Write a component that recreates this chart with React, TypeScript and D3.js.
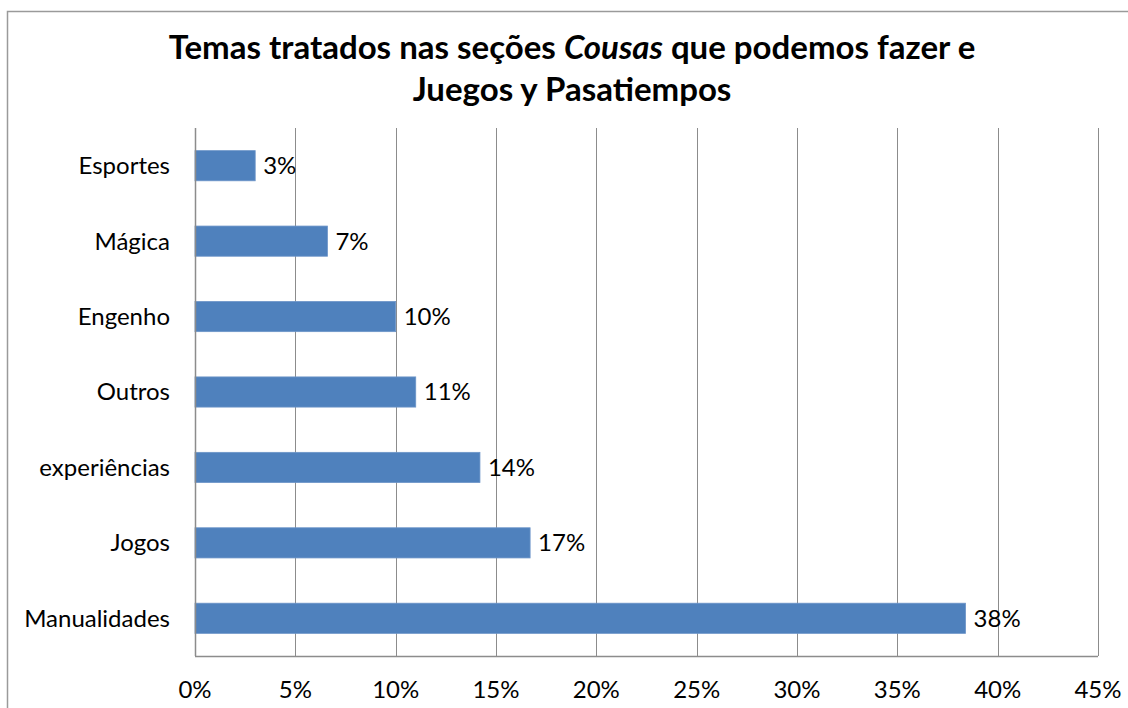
import { useEffect, useRef } from "react";
import * as d3 from "d3";

// categories listed top to bottom, as in the chart
const categories = [
  "Esportes",
  "Mágica",
  "Engenho",
  "Outros",
  "experiências",
  "Jogos",
  "Manualidades",
];
const values = [0.03, 0.066, 0.1, 0.11, 0.142, 0.167, 0.384];
const valueLabels = ["3%", "7%", "10%", "11%", "14%", "17%", "38%"];
const xTicks = [0, 0.05, 0.1, 0.15, 0.2, 0.25, 0.3, 0.35, 0.4, 0.45];

const width = 1128;
const height = 708;
const margin = { top: 128, right: 30, bottom: 52, left: 195 };
const FONT = "Lato, 'Open Sans', sans-serif";

export default function App() {
  const svgRef = useRef<SVGSVGElement>(null);

  useEffect(() => {
    const svg = d3.select(svgRef.current);
    svg.selectAll("*").remove();

    const boundsWidth = width - margin.left - margin.right;
    const boundsHeight = height - margin.top - margin.bottom;

    // outer chart border (top + left only visible)
    svg
      .append("path")
      .attr("d", `M7.5,${height} L7.5,11.5 L${width},11.5`)
      .attr("fill", "none")
      .attr("stroke", "#9a9a9a")
      .attr("stroke-width", 1.5);

    // title
    const title = svg
      .append("text")
      .attr("text-anchor", "middle")
      .style("font-family", FONT)
      .style("font-weight", "bold")
      .style("font-size", "33px")
      .attr("fill", "#000");
    const l1 = title.append("tspan").attr("x", 572).attr("y", 59);
    l1.append("tspan").text("Temas tratados nas seções ");
    l1.append("tspan").style("font-style", "italic").text("Cousas");
    l1.append("tspan").text(" que podemos fazer e");
    title.append("tspan").attr("x", 572).attr("y", 101).text("Juegos y Pasatiempos");

    const xScale = d3.scaleLinear().domain([0, 0.45]).range([0, boundsWidth]);
    const yScale = d3
      .scaleBand()
      .domain(categories)
      .range([0, boundsHeight])
      .paddingInner(0.6)
      .paddingOuter(0.3);

    const g = svg
      .append("g")
      .attr("transform", `translate(${margin.left},${margin.top})`);

    // vertical gridlines
    g.selectAll(".grid")
      .data(xTicks.slice(1))
      .join("line")
      .attr("x1", (d) => Math.round(xScale(d)) + 0.5)
      .attr("x2", (d) => Math.round(xScale(d)) + 0.5)
      .attr("y1", 0)
      .attr("y2", boundsHeight)
      .attr("stroke", "#8c8c8c")
      .attr("stroke-width", 1);

    // bars
    g.selectAll(".bar")
      .data(categories)
      .join("rect")
      .attr("x", 0)
      .attr("y", (d) => yScale(d)!)
      .attr("width", (d, i) => xScale(values[i]))
      .attr("height", yScale.bandwidth())
      .attr("fill", "#4f81bd")
      .attr("stroke", "#6d95c8")
      .attr("stroke-width", 0.8);

    // data labels
    g.selectAll(".lbl")
      .data(categories)
      .join("text")
      .attr("x", (d, i) => xScale(values[i]) + 8)
      .attr("y", (d) => yScale(d)! + yScale.bandwidth() / 2)
      .attr("dy", "0.35em")
      .style("font-family", FONT)
      .style("font-size", "24px")
      .attr("fill", "#000")
      .text((d, i) => valueLabels[i]);

    // axes lines
    g.append("line")
      .attr("x1", 0.5)
      .attr("x2", 0.5)
      .attr("y1", 0)
      .attr("y2", boundsHeight)
      .attr("stroke", "#8c8c8c")
      .attr("stroke-width", 1.5);
    g.append("line")
      .attr("x1", 0)
      .attr("x2", boundsWidth)
      .attr("y1", boundsHeight + 0.5)
      .attr("y2", boundsHeight + 0.5)
      .attr("stroke", "#8c8c8c")
      .attr("stroke-width", 1.5);

    // category labels
    g.selectAll(".cat")
      .data(categories)
      .join("text")
      .attr("x", -25)
      .attr("y", (d) => yScale(d)! + yScale.bandwidth() / 2)
      .attr("dy", "0.35em")
      .attr("text-anchor", "end")
      .style("font-family", FONT)
      .style("font-size", "24px")
      .attr("fill", "#000")
      .text((d) => d);

    // x tick labels
    g.selectAll(".tick")
      .data(xTicks)
      .join("text")
      .attr("x", (d) => xScale(d))
      .attr("y", boundsHeight + 34)
      .attr("dy", "0.35em")
      .attr("text-anchor", "middle")
      .style("font-family", FONT)
      .style("font-size", "24px")
      .attr("fill", "#000")
      .text((d) => d3.format(".0%")(d));
  }, []);

  return (
    <svg
      ref={svgRef}
      width={width}
      height={height}
      style={{ position: "absolute", left: 0, top: 0, background: "#fff" }}
    ></svg>
  );
}
